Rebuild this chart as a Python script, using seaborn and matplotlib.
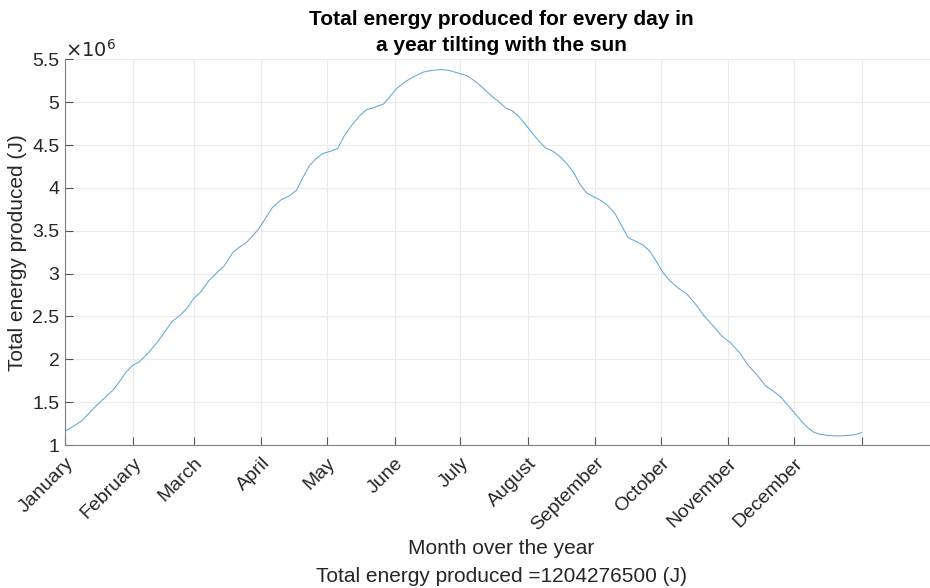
import matplotlib
matplotlib.use('Agg')
import matplotlib.pyplot as plt
import seaborn as sns
import pandas as pd
from matplotlib.ticker import FuncFormatter

# day of the year (0 = 1 January) and energy produced that day (x 10^6 J)
days = [0, 4, 8, 12, 16, 22, 25, 28, 31, 34, 38, 42, 46, 49, 53, 56, 59, 62, 66, 70,
        73, 77, 80, 83, 86, 89, 92, 95, 99, 103, 106, 109, 112, 115, 118, 122, 125, 128, 132, 135,
        138, 142, 146, 149, 152, 156, 160, 164, 168, 172, 176, 180, 184, 187, 190, 193, 196, 199, 202, 205,
        208, 211, 214, 217, 220, 224, 227, 230, 233, 236, 239, 242, 245, 248, 252, 255, 258, 262, 265, 268,
        271, 274, 277, 281, 285, 289, 293, 297, 301, 305, 309, 313, 317, 321, 325, 328, 331, 334, 337, 340,
        343, 346, 350, 354, 358, 362, 365]
energy = [1.16, 1.22, 1.29, 1.40, 1.50, 1.64, 1.74, 1.85, 1.93, 1.97, 2.07, 2.19, 2.33, 2.44, 2.52, 2.60, 2.71, 2.78, 2.92, 3.02,
          3.09, 3.25, 3.31, 3.36, 3.44, 3.53, 3.65, 3.77, 3.86, 3.91, 3.97, 4.12, 4.26, 4.34, 4.40, 4.43, 4.46, 4.61, 4.75, 4.84,
          4.91, 4.94, 4.98, 5.07, 5.16, 5.24, 5.30, 5.35, 5.37, 5.38, 5.37, 5.34, 5.31, 5.26, 5.20, 5.13, 5.06, 5.00, 4.93, 4.90,
          4.83, 4.74, 4.64, 4.55, 4.47, 4.42, 4.36, 4.28, 4.18, 4.04, 3.94, 3.90, 3.86, 3.81, 3.70, 3.56, 3.42, 3.37, 3.33, 3.26,
          3.14, 3.01, 2.92, 2.83, 2.76, 2.64, 2.50, 2.39, 2.27, 2.19, 2.08, 1.93, 1.82, 1.69, 1.62, 1.56, 1.47, 1.38, 1.29, 1.21,
          1.15, 1.125, 1.11, 1.105, 1.11, 1.12, 1.145]

month_starts = [0, 31, 59, 90, 120, 151, 181, 212, 243, 273, 304, 334, 365]
month_names = ['January', 'February', 'March', 'April', 'May', 'June', 'July',
               'August', 'September', 'October', 'November', 'December', '']
y_ticks = [1, 1.5, 2, 2.5, 3, 3.5, 4, 4.5, 5, 5.5]
total_energy = 1204276500

df = pd.DataFrame({'day': days, 'energy': energy})

sns.set_theme(style='whitegrid')
plt.rcParams['font.family'] = ['Liberation Sans', 'DejaVu Sans']

fig = plt.figure(figsize=(9.3, 5.88), dpi=100)
ax = fig.add_axes([65 / 930, 1 - 445 / 588, 873 / 930, 385.7 / 588])

sns.lineplot(data=df, x='day', y='energy', ax=ax, color='#5ea8de', linewidth=0.75)

ax.set_xlim(0, 400)
ax.set_ylim(1, 5.5)
ax.set_xticks(month_starts)
ax.set_xticklabels(month_names, rotation=45, ha='right', rotation_mode='anchor')
ax.set_yticks(y_ticks)
ax.yaxis.set_major_formatter(FuncFormatter(lambda v, p: '%g' % v))

dark = '#262626'
ax.tick_params(axis='both', direction='in', length=6, width=0.8, color='#555555',
               labelsize=14, labelcolor=dark, pad=4)
ax.tick_params(axis='x', pad=7)
ax.tick_params(left=True, bottom=True)
ax.grid(True, color='#ebebeb', linewidth=0.8)
for side in ['top', 'right']:
    ax.spines[side].set_visible(False)
for side in ['left', 'bottom']:
    ax.spines[side].set_color('#808080')
    ax.spines[side].set_linewidth(0.8)

ax.text(0, 1.0 - 2 / 385.7, r'$\times10^{6}$', transform=ax.transAxes, fontsize=14, color=dark,
        ha='left', va='bottom')

ax.set_title('Total energy produced for every day in\na year tilting with the sun',
             fontsize=15, fontweight='bold', color='black', pad=6, x=0.5, linespacing=1.45)
ax.set_xlabel('Month over the year\nTotal energy produced =%d (J)' % total_energy,
              fontsize=15, color=dark, labelpad=3, x=0.5, linespacing=1.6)
ax.set_ylabel('Total energy produced (J)', fontsize=15, color=dark, labelpad=4)

fig.savefig('out.png', dpi=100)
